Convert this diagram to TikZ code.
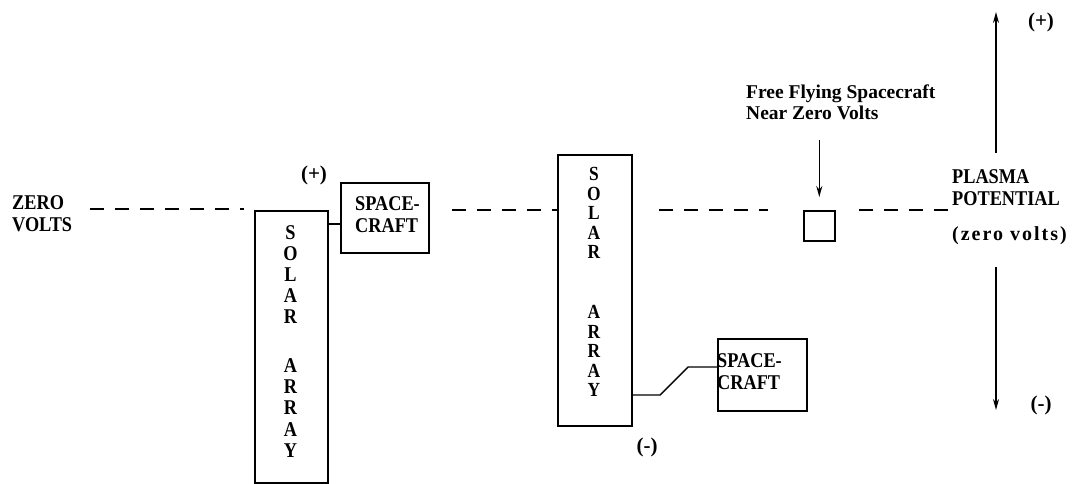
\documentclass[tikz,border=0pt]{standalone}
\usepackage{fontspec}
\setmainfont{Liberation Serif}[UprightFont=* Bold]
\newfontfamily\capsfont{Liberation Serif}[UprightFont=* Bold,FakeStretch=0.87]
\newfontfamily\spacedfont{Liberation Serif}[UprightFont=* Bold,LetterSpace=10]
\usetikzlibrary{arrows.meta}
\begin{document}
\begin{tikzpicture}[x=1pt,y=-1pt,
  lbl/.style={inner sep=0pt, anchor=base west, align=left, font=\capsfont\fontsize{21}{22}\selectfont},
  sml/.style={inner sep=0pt, anchor=base west, align=left, font=\fontsize{19.5}{21}\selectfont},
  sign/.style={inner sep=0pt, font=\fontsize{21}{22}\selectfont},
  box/.style={draw, line width=1.6pt, inner sep=0pt, anchor=north west},
  colA/.style={inner sep=0pt, align=center, font=\capsfont\fontsize{21}{21.2}\selectfont},
  colB/.style={inner sep=0pt, align=center, font=\capsfont\fontsize{20}{19.6}\selectfont},
  zline/.style={line width=1.6pt, dash pattern=on 14pt off 11pt},
  wire/.style={line width=1.4pt},
  arr/.style={line width=1.5pt, -{Stealth[length=11pt,width=6pt]}}
]
\useasboundingbox (0,0) rectangle (1080,483);

% boxes
\node[box, minimum width=73pt, minimum height=272pt] (sa1) at (254,210) {};
\node[box, minimum width=88pt, minimum height=70pt] (sc1) at (340,182) {};
\node[box, minimum width=74pt, minimum height=271pt] (sa2) at (557,154) {};
\node[box, minimum width=89pt, minimum height=72pt] (sc2) at (717,338) {};
\node[box, minimum width=31pt, minimum height=30pt] (fs) at (803,210) {};

% solar array letters
\node[colA] (sa1a) at (290.5,274.5) {S\\O\\L\\A\\R};
\node[colA] (sa1b) at (290.5,408) {A\\R\\R\\A\\Y};
\node[colB] (sa2a) at (594,213) {S\\O\\L\\A\\R};
\node[colB] (sa2b) at (594,351) {A\\R\\R\\A\\Y};

% spacecraft texts (anchor = baseline of last line)
\node[lbl] (sc1t) at (355,232) {SPACE-\\CRAFT};
\node[lbl] (sc2t) at (717,389) {SPACE-\\CRAFT};

% labels
\node[lbl] (zv) at (12,231) {ZERO\\VOLTS};
\node[lbl] (pp) at (952,205) {PLASMA\\POTENTIAL};
\node[inner sep=0pt, anchor=base west, font=\spacedfont\fontsize{20}{21}\selectfont] (zvl) at (952,240) {(zero volts)};
\node[sml] (ffs) at (746,119) {Free Flying Spacecraft\\Near Zero Volts};
\node[sign] (p1) at (314,175) {(+)};
\node[sign] (m1) at (647,447) {(-)};
\node[sign] (p2) at (1041,22) {(+)};
\node[sign] (m2) at (1041,405) {(-)};

% zero-volt reference line
\coordinate (z0) at (90,209);
\coordinate (z1) at (244,209);
\draw[zline] (z0) -- (z1);
\draw[zline] ([xshift=22pt]sc1.east |- 0,210) -- (sa2.west |- 0,210);
\draw[zline] ([xshift=26pt]sa2.east |- 0,210) -- ([xshift=-35pt]fs.west |- 0,210);
\draw[zline] ([xshift=23pt]fs.east |- 0,210) -- (pp.west |- 0,210);

% wires
\draw[wire] (sa1.east |- 0,224) -- (sc1.west |- 0,224);
\draw[wire] (sa2.east |- 0,395) -- (660,395) -- (688,367) -- (sc2.west |- 0,367);

% arrows
\draw[arr] ([yshift=70pt]fs.north) -- ([yshift=13pt]fs.north);
\coordinate (pu0) at (996,153);
\coordinate (pu1) at (996,12);
\coordinate (pd0) at (996,267);
\coordinate (pd1) at (996,410);
\draw[arr] (pu0) -- (pu1);
\draw[arr] (pd0) -- (pd1);
\end{tikzpicture}
\end{document}
